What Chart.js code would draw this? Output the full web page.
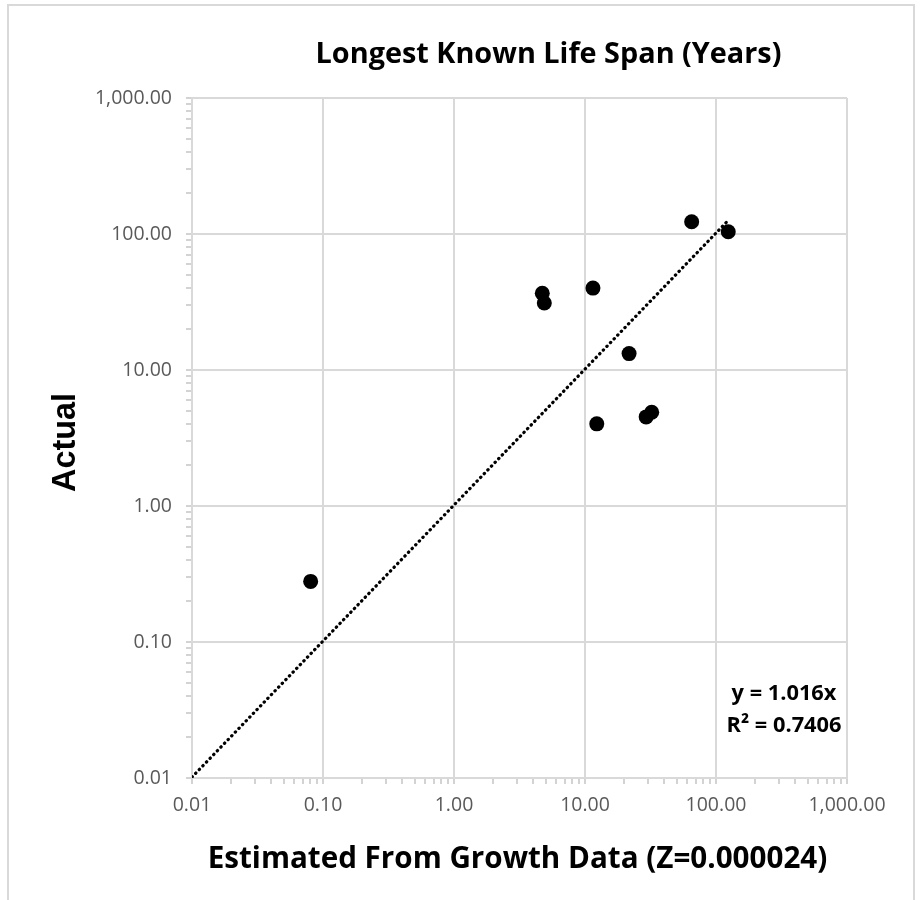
<!DOCTYPE html>
<html>
<head>
  <meta charset="utf-8">
  <title>Longest Known Life Span (Years)</title>
  <script src="https://cdn.jsdelivr.net/npm/chart.js@4/dist/chart.umd.min.js"></script>
  <style>
    html, body { margin: 0; padding: 0; background: #fff; }
    #wrap { width: 923px; height: 900px; position: relative; }
  </style>
</head>
<body>
<div id="wrap"><canvas id="chart" width="923" height="900"></canvas></div>
<script>
// Estimated (x) vs actual (y) longest life span, years
const estimated = [0.0805, 4.72, 4.89, 11.5, 12.3, 21.7, 29.3, 32.3, 65.2, 124];
const actual    = [0.279, 36.7, 31.1, 40.0, 4.02, 13.2, 4.52, 4.89, 123, 104];

// trendline y = 1.016x, drawn across the data range
const trendX = [0.01, 124];
const trendY = [0.01016, 126.0];

// axis ticks: decades get labels + gridlines, minor ticks only get tick marks
const decades = [0.01, 0.1, 1, 10, 100, 1000];
const minorSteps = [2, 3, 4, 5, 6, 7, 8, 9];

const chartTitle = 'Longest Known Life Span (Years)';
const xTitle = 'Estimated From Growth Data (Z=0.000024)';
const yTitle = 'Actual';
const eqLines = ['y = 1.016x', 'R\u00B2 = 0.7406'];

const GRID = '#d9d9d9';
const TICK_MARK = '#c4c4c4';
const LABEL = '#595959';

function buildTicks(scale) {
  const ticks = [];
  decades.forEach((d, i) => {
    ticks.push({ value: d, major: true });
    if (i < decades.length - 1) {
      minorSteps.forEach(s => ticks.push({ value: +(d * s).toPrecision(6), major: false }));
    }
  });
  scale.ticks = ticks;
}

const isDecade = v => Math.abs(Math.log10(v) - Math.round(Math.log10(v))) < 1e-9;
const fmt = v => v.toLocaleString('en-US', { minimumFractionDigits: 2, maximumFractionDigits: 2 });

function fitSize(ctx, text, weight, family, targetW) {
  ctx.font = `${weight} 100px ${family}`;
  return 100 * targetW / ctx.measureText(text).width;
}

const decorations = {
  id: 'decorations',
  beforeDraw(chart) {
    const ctx = chart.ctx;
    ctx.save();
    ctx.fillStyle = '#fff';
    ctx.fillRect(0, 0, chart.width, chart.height);
    // outer chart frame (bottom edge is cut off in the reference)
    ctx.strokeStyle = GRID;
    ctx.lineWidth = 2;
    ctx.beginPath();
    ctx.moveTo(8, 900);
    ctx.lineTo(8, 5);
    ctx.lineTo(914, 5);
    ctx.lineTo(914, 900);
    ctx.stroke();
    ctx.restore();
  },
  afterDraw(chart) {
    const ctx = chart.ctx;
    const area = chart.chartArea;
    ctx.save();
    ctx.fillStyle = '#000';
    ctx.textAlign = 'center';
    ctx.textBaseline = 'alphabetic';

    // chart title
    let size = fitSize(ctx, chartTitle, 'bold', '"Open Sans"', 466);
    ctx.font = `bold ${size}px "Open Sans"`;
    ctx.fillText(chartTitle, 548.5, 63);

    // x axis title
    size = fitSize(ctx, xTitle, 'bold', '"Open Sans"', 620);
    ctx.font = `bold ${size}px "Open Sans"`;
    ctx.fillText(xTitle, (area.left + area.right) / 2 - 2, 868);

    // y axis title, rotated
    size = fitSize(ctx, yTitle, 'bold', '"Liberation Sans"', 99);
    ctx.font = `bold ${size}px "Liberation Sans"`;
    ctx.save();
    ctx.translate(75, 442.5);
    ctx.rotate(-Math.PI / 2);
    ctx.fillText(yTitle, 0, 0);
    ctx.restore();

    // trendline equation
    size = fitSize(ctx, eqLines[1], 'bold', '"Open Sans"', 115);
    ctx.font = `bold ${size}px "Open Sans"`;
    ctx.fillText(eqLines[0], 784, 700);
    ctx.fillText(eqLines[1], 784, 732);
    ctx.restore();
  }
};

function logAxis(axis) {
  return {
    type: 'logarithmic',
    min: 0.01,
    max: 1000,
    afterBuildTicks: buildTicks,
    afterFit: axis === 'x'
      ? (s) => { s.height = 122; }
      : (s) => { s.width = 192; },
    border: { display: true, color: GRID, width: 2 },
    grid: {
      color: c => (c.tick && isDecade(c.tick.value)) ? GRID : 'rgba(0,0,0,0)',
      tickColor: TICK_MARK,
      lineWidth: 2,
      tickWidth: 1.5,
      tickLength: 6,
      drawTicks: true
    },
    ticks: {
      autoSkip: false,
      maxRotation: 0,
      minRotation: 0,
      padding: axis === 'x' ? 10 : 14,
      color: LABEL,
      font: { family: '"Open Sans"', size: 19.5 },
      callback: v => isDecade(v) ? fmt(v) : ''
    }
  };
}

new Chart(document.getElementById('chart'), {
  type: 'scatter',
  data: {
    datasets: [
      {
        label: 'Actual',
        data: estimated.map((x, i) => ({ x, y: actual[i] })),
        pointRadius: 7.5,
        pointHoverRadius: 7.5,
        pointBackgroundColor: '#000',
        pointBorderColor: '#000',
        pointBorderWidth: 0,
        order: 0
      },
      {
        type: 'line',
        label: 'Linear (Actual)',
        data: trendX.map((x, i) => ({ x, y: trendY[i] })),
        showLine: true,
        fill: false,
        pointRadius: 0,
        borderColor: '#000',
        borderWidth: 3.2,
        borderDash: [0.4, 4.8],
        borderCapStyle: 'round',
        order: 1
      }
    ]
  },
  options: {
    responsive: false,
    devicePixelRatio: 1,
    animation: false,
    layout: { padding: { top: 98, right: 76, left: 0, bottom: 0 } },
    plugins: {
      legend: { display: false },
      title: { display: false },
      tooltip: { enabled: false }
    },
    scales: {
      x: logAxis('x'),
      y: logAxis('y')
    }
  },
  plugins: [decorations]
});
</script>
</body>
</html>
